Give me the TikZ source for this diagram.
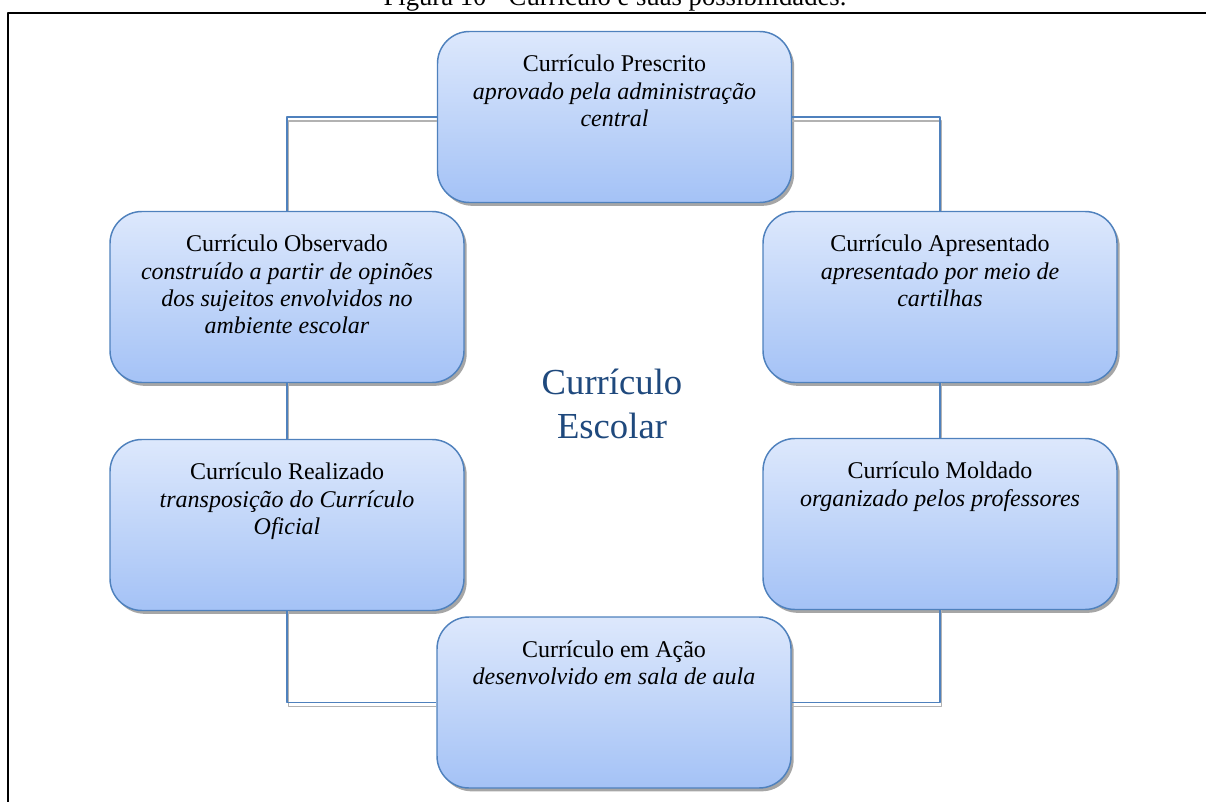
\documentclass[tikz,border=0pt]{standalone}
\usepackage{fontspec}
\setmainfont{Liberation Serif}
\usetikzlibrary{shadows}
\definecolor{boxline}{RGB}{79,129,189}
\definecolor{boxtop}{RGB}{221,232,252}
\definecolor{boxbottom}{RGB}{164,194,246}
\definecolor{centreblue}{RGB}{31,73,125}
\tikzset{
  curbox/.style={rounded corners=24pt, draw=boxline, line width=1.1pt,
    top color=boxtop, bottom color=boxbottom,
    minimum width=265.5pt, minimum height=128.25pt,
    drop shadow={shadow xshift=2pt, shadow yshift=-2.5pt, fill=black, opacity=.35}},
  curtext/.style={anchor=north, align=center, inner sep=0pt, font=\fontsize{18}{20.5}\selectfont},
  link/.style={draw=boxline, line width=1.1pt},
  linkshade/.style={draw=black!30, line width=1.1pt},
}
\begin{document}
\begin{tikzpicture}[x=0.75pt,y=-0.75pt,line join=round]
    \useasboundingbox (0,0) rectangle (1206,802);
    \clip (0,0) rectangle (1206,802);
    \node[anchor=base, inner sep=0pt, font=\fontsize{20}{24}\selectfont] (caption) at (615,6)
      {Figura 10 - Currículo e suas possibilidades.};
    \draw[line width=1.5pt] (8,812) -- (8,13) -- (1216,13);
    % boxes
    \node[curbox] (pres) at (614.5,117) {};
    \node[curbox] (obs) at (287,297) {};
    \node[curbox] (apr) at (940,297) {};
    \node[curbox] (real) at (287,525) {};
    \node[curbox] (mold) at (940,524) {};
    \node[curbox] (acao) at (614,702.5) {};
    % connectors
    \draw[linkshade]
      ([yshift=-3pt]pres.west) -| ([xshift=1pt]obs.north)
      ([yshift=-3pt]pres.east) -| ([xshift=1pt]apr.north)
      ([xshift=1pt]obs.south) -- ([xshift=1pt]real.north)
      ([xshift=1pt]apr.south) -- ([xshift=1pt]mold.north)
      ([xshift=1pt]real.south) |- ([yshift=-3pt]acao.west)
      ([xshift=1pt]mold.south) |- ([yshift=-3pt]acao.east);
    \draw[link]
      (pres.west) -| (obs.north)
      (pres.east) -| (apr.north)
      (obs.south) -- (real.north)
      (apr.south) -- (mold.north)
      (real.south) |- (acao.west)
      (mold.south) |- (acao.east);
    % texts
    \node[curtext] (pres-t) at ([yshift=-18pt]pres.north)
      {Currículo Prescrito\\\textit{aprovado pela administração}\\\textit{central}};
    \node[curtext] (obs-t) at ([yshift=-18pt]obs.north)
      {Currículo Observado\\\textit{construído a partir de opinões}\\\textit{dos sujeitos envolvidos no}\\\textit{ambiente escolar}};
    \node[curtext] (apr-t) at ([yshift=-18pt]apr.north)
      {Currículo Apresentado\\\textit{apresentado por meio de}\\\textit{cartilhas}};
    \node[curtext] (real-t) at ([yshift=-18pt]real.north)
      {Currículo Realizado\\\textit{transposição do Currículo}\\\textit{Oficial}};
    \node[curtext] (mold-t) at ([yshift=-18pt]mold.north)
      {Currículo Moldado\\\textit{organizado pelos professores}};
    \node[curtext] (acao-t) at ([yshift=-18pt]acao.north)
      {Currículo em Ação\\\textit{desenvolvido em sala de aula}};
    \node[align=center, text=centreblue, font=\fontsize{27.5}{33}\selectfont] (centre) at (612,404)
      {Currículo\\Escolar};
\end{tikzpicture}
\end{document}
